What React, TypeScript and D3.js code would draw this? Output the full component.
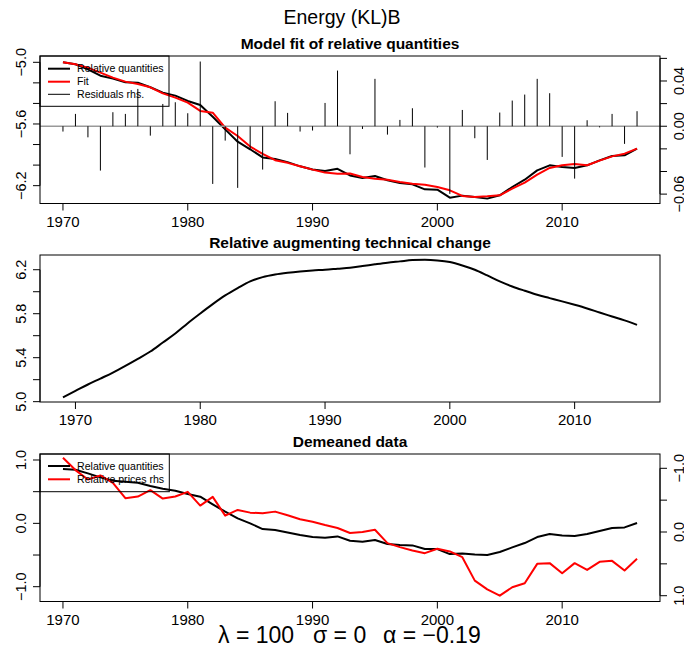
import React from "react";
import * as d3 from "d3";

// x categories
const years = d3.range(1970, 2017);
const trendYears = d3.range(1969, 2016);

// Model fit of relative quantities (lhs)
const relQuantities = [
  -5.0, -5.019, -5.068, -5.13, -5.159, -5.195, -5.198, -5.243, -5.295, -5.324,
  -5.376, -5.415, -5.529, -5.652, -5.772, -5.846, -5.925, -5.94, -5.971, -6.012,
  -6.043, -6.058, -6.036, -6.101, -6.125, -6.106, -6.148, -6.174, -6.187, -6.236,
  -6.239, -6.317, -6.297, -6.31, -6.326, -6.294, -6.213, -6.142, -6.051, -6.002,
  -6.018, -6.028, -6.002, -5.954, -5.911, -5.905, -5.84,
];
const fitValues = [
  -5.0, -5.019, -5.052, -5.1, -5.149, -5.188, -5.211, -5.243, -5.302, -5.344,
  -5.392, -5.473, -5.49, -5.636, -5.717, -5.82, -5.89, -5.952, -5.978, -6.012,
  -6.044, -6.073, -6.085, -6.082, -6.116, -6.132, -6.142, -6.164, -6.181, -6.192,
  -6.213, -6.245, -6.3, -6.31, -6.304, -6.294, -6.229, -6.171, -6.093, -6.028,
  -6.002, -5.989, -6.002, -5.957, -5.915, -5.889, -5.84,
];
// residuals (rhs)
const residuals = [
  -0.0047, 0.0109, -0.0098, -0.0392, 0.0124, 0.0109, 0.033, -0.0083, 0.0197, 0.0212,
  0.0115, 0.0572, -0.051, -0.0127, -0.0545, -0.02, -0.0383, 0.0221, 0.0118, -0.0047,
  -0.0038, 0.0206, 0.0492, -0.0248, -0.0024, 0.0419, -0.0074, 0.0056, 0.0159, -0.0365,
  -0.0012, -0.0598, 0.0144, -0.0106, -0.0298, 0.0121, 0.0227, 0.028, 0.0419, 0.0292,
  -0.0271, -0.0463, 0.0053, -0.001, 0.0109, -0.0156, 0.0133,
];

// Relative augmenting technical change, 1969-2015
const techChange = [
  5.04, 5.098, 5.156, 5.21, 5.265, 5.326, 5.39, 5.456, 5.538, 5.62,
  5.714, 5.802, 5.887, 5.966, 6.033, 6.094, 6.133, 6.157, 6.173, 6.185,
  6.194, 6.2, 6.209, 6.218, 6.233, 6.249, 6.264, 6.276, 6.288, 6.291,
  6.285, 6.27, 6.239, 6.2, 6.148, 6.094, 6.048, 6.009, 5.972, 5.942,
  5.912, 5.881, 5.848, 5.811, 5.775, 5.739, 5.699,
];

// Demeaned data
const demeanedQ = [
  0.858, 0.847, 0.789, 0.726, 0.673, 0.658, 0.642, 0.589, 0.547, 0.516,
  0.463, 0.421, 0.3, 0.184, 0.078, 0.0, -0.09, -0.106, -0.143, -0.185,
  -0.216, -0.226, -0.206, -0.274, -0.29, -0.264, -0.327, -0.343, -0.348, -0.406,
  -0.406, -0.485, -0.474, -0.49, -0.501, -0.453, -0.38, -0.311, -0.216, -0.169,
  -0.19, -0.201, -0.169, -0.122, -0.074, -0.064, 0.005,
];
const demeanedP = [
  -1.165, -0.972, -0.825, -0.888, -0.772, -0.53, -0.557, -0.657, -0.525, -0.557,
  -0.63, -0.415, -0.552, -0.257, -0.346, -0.304, -0.294, -0.32, -0.262, -0.199,
  -0.162, -0.11, -0.063, 0.016, 0.0, -0.036, 0.174, 0.237, 0.29, 0.332,
  0.263, 0.305, 0.395, 0.763, 0.9, 1.0, 0.868, 0.805, 0.5, 0.489,
  0.647, 0.489, 0.595, 0.468, 0.453, 0.605, 0.421,
];

// ticks and labels
const xTicks = [1970, 1980, 1990, 2000, 2010];
const fitTicks = [-5.0, -5.2, -5.4, -5.6, -5.8, -6.0, -6.2];
const fitLabels = ["−5.0", "", "", "−5.6", "", "", "−6.2"];
const residTicks = [0.06, 0.04, 0.02, 0.0, -0.02, -0.04, -0.06];
const residLabels = ["", "0.04", "", "0.00", "", "", "−0.06"];
const techTicks = [5.0, 5.2, 5.4, 5.6, 5.8, 6.0, 6.2];
const techLabels = ["5.0", "", "5.4", "", "5.8", "", "6.2"];
const demTicks = [1.0, 0.5, 0.0, -0.5, -1.0];
const demLabelsL = ["1.0", "", "0.0", "", "−1.0"];
const demLabelsR = ["1.0", "", "0.0", "", "−1.0"];

const FONT = "'Liberation Sans', Arial, Helvetica, sans-serif";
const W = 684;
const H = 651;
const L = 40;
const R = 660;

const top = { y0: 56, y1: 203.5 };
const mid = { y0: 255, y1: 402 };
const bot = { y0: 454, y1: 601.5 };

const xMain = d3.scaleLinear().domain([1968.16, 2017.84]).range([L, R]);
const xTrend = d3.scaleLinear().domain([1967.16, 2016.84]).range([L, R]);
const yFit = d3.scaleLinear().domain([-6.3735, -4.9387]).range([top.y1, top.y0]);
const yResid = d3.scaleLinear().domain([-0.0683, 0.0621]).range([top.y1, top.y0]);
const yTech = d3.scaleLinear().domain([4.997, 6.334]).range([mid.y1, mid.y0]);
const yDemL = d3.scaleLinear().domain([-1.2336, 1.0947]).range([bot.y1, bot.y0]);
const yDemR = d3.scaleLinear().domain([1.091, -1.2245]).range([bot.y1, bot.y0]);

function XAxis({ scale, y }: any) {
  return (
    <g>
      {xTicks.map((t) => (
        <g key={t}>
          <line x1={scale(t)} x2={scale(t)} y1={y} y2={y + 7} stroke="#000" />
          <text x={scale(t)} y={y + 23} textAnchor="middle" fontSize={15} fontFamily={FONT}>
            {t}
          </text>
        </g>
      ))}
    </g>
  );
}

function YAxis({ scale, ticks, labels, side }: any) {
  const x0 = side === "left" ? L : R;
  const dir = side === "left" ? -1 : 1;
  const lx = side === "left" ? 25.5 : 683.5;
  return (
    <g>
      <line x1={x0} x2={x0} y1={scale(ticks[0])} y2={scale(ticks[ticks.length - 1])} stroke="#000" />
      {ticks.map((t: number, i: number) => (
        <g key={i}>
          <line x1={x0} x2={x0 + dir * 7} y1={scale(t)} y2={scale(t)} stroke="#000" />
          {labels[i] ? (
            <text
              transform={`translate(${lx},${scale(t)}) rotate(-90)`}
              textAnchor="middle"
              fontSize={14.5}
              fontFamily={FONT}
            >
              {labels[i]}
            </text>
          ) : null}
        </g>
      ))}
    </g>
  );
}

function Title({ y, children }: any) {
  return (
    <text x={(L + R) / 2} y={y} textAnchor="middle" fontSize={15.5} fontWeight="bold" fontFamily={FONT}>
      {children}
    </text>
  );
}

function LegendRow({ y, color, width, label }: any) {
  return (
    <g>
      <line x1={48} x2={70} y1={y} y2={y} stroke={color} strokeWidth={width} />
      <text x={77} y={y + 3.7} fontSize={10.6} fontFamily={FONT} fill="#000">
        {label}
      </text>
    </g>
  );
}

export default function App() {
  const lineFit = d3
    .line<number>()
    .x((_, i) => xMain(years[i]))
    .y((d) => yFit(d));
  const lineTech = d3
    .line<number>()
    .x((_, i) => xTrend(trendYears[i]))
    .y((d) => yTech(d))
    .curve(d3.curveMonotoneX);
  const lineDemQ = d3
    .line<number>()
    .x((_, i) => xMain(years[i]))
    .y((d) => yDemL(d));
  const lineDemP = d3
    .line<number>()
    .x((_, i) => xMain(years[i]))
    .y((d) => yDemR(d));

  return (
    <svg
      width={W}
      height={H}
      style={{ position: "absolute", left: 0, top: 0, background: "#fff" }}
    >
      <rect x={0} y={0} width={W} height={H} fill="#fff" />
      <text x={W / 2} y={23.5} textAnchor="middle" fontSize={19.5} fontFamily={FONT}>
        Energy (KL)B
      </text>

      {/* top panel */}
      <Title y={49}>Model fit of relative quantities</Title>
      <path d={lineFit(relQuantities) || ""} fill="none" stroke="#000" strokeWidth={2} strokeLinejoin="round" />
      <path d={lineFit(fitValues) || ""} fill="none" stroke="#ff0000" strokeWidth={2} strokeLinejoin="round" />
      <line x1={L} x2={R} y1={yResid(0)} y2={yResid(0)} stroke="#999" strokeWidth={1.3} />
      {residuals.map((r, i) => (
        <line
          key={i}
          x1={xMain(years[i])}
          x2={xMain(years[i])}
          y1={yResid(0)}
          y2={yResid(r)}
          stroke="#000"
          strokeWidth={1}
        />
      ))}
      <rect x={L} y={top.y0} width={R - L} height={top.y1 - top.y0} fill="none" stroke="#000" />
      <rect x={L} y={top.y0} width={129} height={50.3} fill="none" stroke="#000" />
      <LegendRow y={68.7} color="#000" width={2} label="Relative quantities" />
      <LegendRow y={81.7} color="#ff0000" width={2} label="Fit" />
      <LegendRow y={94.3} color="#000" width={1} label="Residuals rhs." />
      <XAxis scale={xMain} y={top.y1} />
      <YAxis scale={yFit} ticks={fitTicks} labels={fitLabels} side="left" />
      <YAxis scale={yResid} ticks={residTicks} labels={residLabels} side="right" />

      {/* middle panel */}
      <Title y={248}>Relative augmenting technical change</Title>
      <path d={lineTech(techChange) || ""} fill="none" stroke="#000" strokeWidth={2} />
      <rect x={L} y={mid.y0} width={R - L} height={mid.y1 - mid.y0} fill="none" stroke="#000" />
      <XAxis scale={xTrend} y={mid.y1} />
      <YAxis scale={yTech} ticks={techTicks} labels={techLabels} side="left" />

      {/* bottom panel */}
      <Title y={447}>Demeaned data</Title>
      <path d={lineDemQ(demeanedQ) || ""} fill="none" stroke="#000" strokeWidth={2} strokeLinejoin="round" />
      <path d={lineDemP(demeanedP) || ""} fill="none" stroke="#ff0000" strokeWidth={2} strokeLinejoin="round" />
      <rect x={L} y={bot.y0} width={R - L} height={bot.y1 - bot.y0} fill="none" stroke="#000" />
      <rect x={L} y={bot.y0} width={129.3} height={37.7} fill="none" stroke="#000" />
      <LegendRow y={466} color="#000" width={2} label="Relative quantities" />
      <LegendRow y={479.3} color="#ff0000" width={2} label="Relative prices rhs" />
      <XAxis scale={xMain} y={bot.y1} />
      <YAxis scale={yDemL} ticks={demTicks} labels={demLabelsL} side="left" />
      <YAxis scale={yDemR} ticks={demTicks} labels={demLabelsR} side="right" />

      {/* parameters */}
      <text y={642.7} fontSize={23} fontFamily={FONT}>
        <tspan x={218}>λ = 100</tspan>
        <tspan x={313}>σ = 0</tspan>
        <tspan x={383}>α = −0.19</tspan>
      </text>
    </svg>
  );
}
